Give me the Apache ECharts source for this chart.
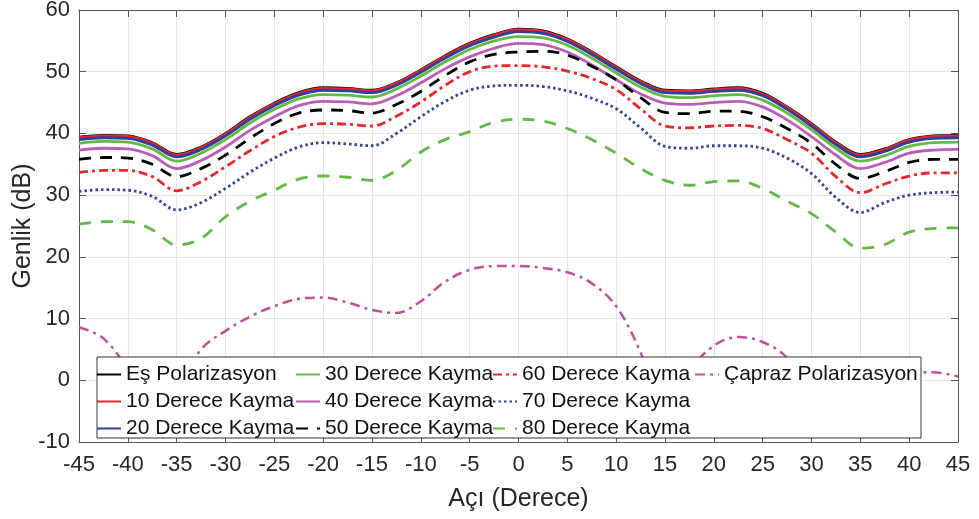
<!DOCTYPE html>
<html>
<head>
<meta charset="utf-8">
<script src="https://cdn.jsdelivr.net/npm/echarts@6.0.0/dist/echarts.min.js"></script>
<style>
  html, body { margin: 0; padding: 0; background: #fff; }
  #chart { width: 979px; height: 519px; }
</style>
</head>
<body>
<div id="chart"></div>
<script>
// angles (deg), 2.5 step
const angles = [-45, -42.5, -40, -37.5, -35, -32.5, -30, -27.5, -25, -22.5, -20, -17.5, -15, -12.5, -10, -7.5, -5, -2.5, 0,
  2.5, 5, 7.5, 10, 12.5, 15, 17.5, 20, 22.5, 25, 27.5, 30, 32.5, 35, 37.5, 40, 42.5, 45];

const esPol = [39.4, 39.7, 39.6, 38.5, 36.6, 37.8, 40.0, 42.7, 44.9, 46.6, 47.4, 47.3, 47.0, 48.2, 50.3, 52.6, 54.6, 56.0, 56.9,
  56.6, 55.3, 53.2, 50.8, 48.5, 47.0, 46.9, 47.2, 47.4, 46.5, 44.3, 41.6, 38.6, 36.6, 37.5, 39.0, 39.6, 39.7];
const kayma10 = [39.3, 39.6, 39.5, 38.4, 36.5, 37.7, 39.9, 42.6, 44.8, 46.5, 47.3, 47.2, 46.9, 48.1, 50.2, 52.5, 54.5, 55.9, 56.8,
  56.5, 55.2, 53.1, 50.7, 48.4, 46.9, 46.8, 47.1, 47.3, 46.4, 44.2, 41.5, 38.5, 36.5, 37.4, 38.9, 39.5, 39.6];
const kayma20 = [39.0, 39.3, 39.2, 38.1, 36.2, 37.4, 39.6, 42.3, 44.5, 46.2, 47.0, 46.9, 46.6, 47.8, 49.9, 52.2, 54.2, 55.6, 56.5,
  56.2, 54.9, 52.8, 50.4, 48.1, 46.6, 46.5, 46.8, 47.0, 46.1, 43.9, 41.2, 38.2, 36.2, 37.1, 38.6, 39.2, 39.3];
const kayma30 = [38.4, 38.7, 38.6, 37.5, 35.5, 36.8, 39.0, 41.7, 43.9, 45.6, 46.3, 46.2, 45.9, 47.2, 49.3, 51.6, 53.6, 55.0, 55.7,
  55.5, 54.3, 52.2, 49.8, 47.5, 46.0, 45.8, 46.1, 46.3, 45.4, 43.3, 40.6, 37.6, 35.5, 36.4, 37.9, 38.5, 38.6];
const kayma40 = [37.3, 37.6, 37.5, 36.4, 34.3, 35.6, 37.8, 40.5, 42.7, 44.5, 45.2, 45.1, 44.8, 46.1, 48.2, 50.5, 52.4, 53.8, 54.6,
  54.4, 53.2, 51.1, 48.7, 46.4, 44.9, 44.7, 45.0, 45.2, 44.3, 42.2, 39.5, 36.5, 34.3, 35.3, 36.8, 37.3, 37.4];
const kayma50 = [35.8, 36.1, 36.0, 35.0, 33.0, 34.3, 36.5, 39.2, 41.6, 43.3, 43.8, 43.7, 43.3, 44.7, 46.8, 49.4, 51.6, 52.8, 53.2,
  53.3, 52.7, 50.9, 48.7, 45.8, 43.4, 43.2, 43.6, 43.6, 42.7, 40.8, 38.4, 35.0, 32.7, 33.8, 35.3, 35.8, 35.8];
const kayma60 = [33.7, 34.0, 34.0, 33.0, 30.7, 32.2, 34.6, 37.2, 39.5, 41.0, 41.6, 41.5, 41.2, 42.8, 45.1, 47.8, 50.0, 50.9, 51.0,
  50.8, 50.1, 48.9, 47.1, 44.0, 41.2, 40.9, 41.2, 41.3, 40.8, 39.0, 36.8, 33.0, 30.4, 31.8, 33.1, 33.6, 33.6];
const kayma70 = [30.6, 30.9, 30.8, 29.8, 27.6, 28.8, 31.1, 33.7, 36.0, 37.8, 38.5, 38.3, 38.0, 40.0, 42.7, 45.2, 47.0, 47.7, 47.8,
  47.6, 46.9, 45.7, 44.0, 40.9, 37.9, 37.6, 38.0, 38.0, 37.6, 36.0, 33.5, 29.6, 27.2, 28.8, 30.0, 30.4, 30.5];
const kayma80 = [25.3, 25.7, 25.7, 24.4, 21.9, 23.0, 26.5, 29.0, 30.8, 32.6, 33.1, 32.9, 32.4, 34.0, 37.0, 39.0, 40.3, 41.8, 42.3,
  42.0, 40.8, 39.0, 36.8, 34.3, 32.4, 31.6, 32.2, 32.3, 31.1, 29.0, 27.0, 24.0, 21.4, 22.0, 24.0, 24.6, 24.7];
const caprazPol = [8.6, 6.8, 1.5, -8, -2, 5.0, 8.0, 10.3, 12.0, 13.2, 13.4, 12.6, 11.4, 10.9, 12.8, 16.0, 17.9, 18.5, 18.5,
  18.2, 17.5, 15.7, 12.0, 4.5, -6, 1.5, 5.6, 7.0, 6.2, 3.6, -3, -7, -3, 0, 1.2, 1.3, 0.6];

const xTicks = { min: -45, max: 45, interval: 5 };
const yTicks = { min: -10, max: 60, interval: 10 };

const names = ['Eş Polarizasyon', '10 Derece Kayma', '20 Derece Kayma', '30 Derece Kayma', '40 Derece Kayma',
  '50 Derece Kayma', '60 Derece Kayma', '70 Derece Kayma', '80 Derece Kayma', 'Çapraz Polarizasyon'];

const FONT = 'Liberation Sans, Arial, sans-serif';

function pairs(vals) {
  return angles.map((a, i) => [a, vals[i]]);
}

function mkSeries(name, vals, color, type) {
  return {
    name: name,
    type: 'line',
    data: pairs(vals),
    symbol: 'none',
    smooth: 0.35,
    lineStyle: { color: color, width: 2.8, type: type },
    itemStyle: { color: color },
    z: 2
  };
}

const series = [
  mkSeries(names[0], esPol, '#000000', 'solid'),
  mkSeries(names[1], kayma10, '#e8262b', 'solid'),
  mkSeries(names[2], kayma20, '#2f3f9c', 'solid'),
  mkSeries(names[3], kayma30, '#62b946', 'solid'),
  mkSeries(names[4], kayma40, '#bd5cb8', 'solid'),
  mkSeries(names[5], kayma50, '#000000', [12, 9]),
  mkSeries(names[6], kayma60, '#e8262b', [9, 4, 3, 4]),
  mkSeries(names[7], kayma70, '#34409e', [2.5, 3]),
  mkSeries(names[8], kayma80, '#62b946', [12, 10]),
  mkSeries(names[9], caprazPol, '#c0509e', [10, 5, 3, 5])
];
series[9].lineStyle.width = 2.5;

const legendCols = [[0, 1, 2], [3, 4, 5], [6, 7, 8], [9]];
const legendLeft = [96, 295, 492, 694];

const legends = legendCols.map((col, k) => ({
  orient: 'vertical',
  left: legendLeft[k],
  top: 364,
  padding: 0,
  itemGap: 6,
  itemWidth: 24,
  itemHeight: 14,
  selectedMode: false,
  z: 20,
  itemStyle: { opacity: 0 },
  data: col.map(i => names[i]),
  textStyle: { fontFamily: FONT, fontSize: 21, color: '#111', lineHeight: 21 }
}));

const axisCol = '#555';
const labelCol = '#262626';

const chart = echarts.init(document.getElementById('chart'));
chart.setOption({
  animation: false,
  backgroundColor: '#fff',
  grid: { left: 79, right: 21, top: 10, bottom: 77, containLabel: false, outerBoundsMode: 'none' },
  legend: legends,
  graphic: [{
    type: 'rect',
    z: 10,
    shape: { x: 97, y: 357, width: 824, height: 81 },
    style: { fill: '#fff', stroke: '#333', lineWidth: 1 }
  }],
  xAxis: [{
    type: 'value', min: xTicks.min, max: xTicks.max, interval: xTicks.interval,
    name: 'Açı (Derece)', nameLocation: 'middle', nameGap: 45, nameMoveOverlap: false,
    nameTextStyle: { fontFamily: FONT, fontSize: 25, color: labelCol },
    axisLine: { show: true, onZero: false, lineStyle: { color: axisCol, width: 1 } },
    axisTick: { show: true, inside: true, length: 7, lineStyle: { color: axisCol } },
    axisLabel: { fontFamily: FONT, fontSize: 22, color: labelCol, margin: 12 },
    splitLine: { show: true, lineStyle: { color: '#e6e6e6', width: 1 } }
  }, {
    type: 'value', position: 'top', min: xTicks.min, max: xTicks.max, interval: xTicks.interval,
    axisLine: { show: true, onZero: false, lineStyle: { color: axisCol, width: 1 } },
    axisTick: { show: true, inside: true, length: 7, lineStyle: { color: axisCol } },
    axisLabel: { show: false },
    splitLine: { show: false }
  }],
  yAxis: [{
    type: 'value', min: yTicks.min, max: yTicks.max, interval: yTicks.interval,
    name: 'Genlik (dB)', nameLocation: 'middle', nameGap: 43, nameMoveOverlap: false,
    nameTextStyle: { fontFamily: FONT, fontSize: 25, color: labelCol },
    axisLine: { show: true, onZero: false, lineStyle: { color: axisCol, width: 1 } },
    axisTick: { show: true, inside: true, length: 7, lineStyle: { color: axisCol } },
    axisLabel: { fontFamily: FONT, fontSize: 22, color: labelCol, margin: 9 },
    splitLine: { show: true, lineStyle: { color: '#e6e6e6', width: 1 } }
  }, {
    type: 'value', position: 'right', min: yTicks.min, max: yTicks.max, interval: yTicks.interval,
    axisLine: { show: true, onZero: false, lineStyle: { color: axisCol, width: 1 } },
    axisTick: { show: true, inside: true, length: 7, lineStyle: { color: axisCol } },
    axisLabel: { show: false },
    splitLine: { show: false }
  }],
  series: series
});
</script>
</body>
</html>
